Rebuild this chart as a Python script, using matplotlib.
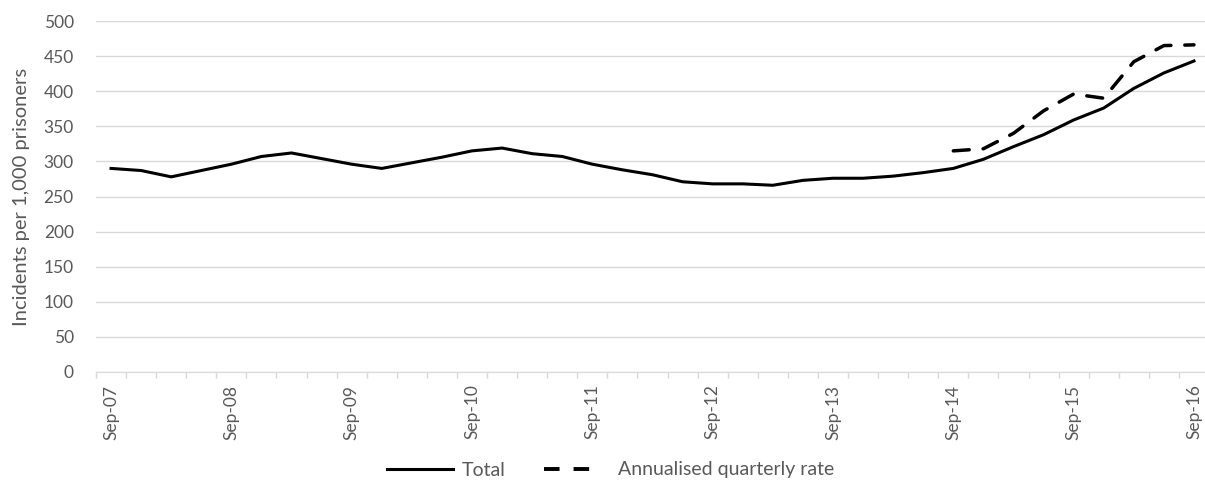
import numpy as np
import matplotlib.pyplot as plt
from matplotlib.ticker import FixedLocator
from matplotlib.lines import Line2D

# DATA
quarters = ['Sep-07', 'Dec-07', 'Mar-08', 'Jun-08', 'Sep-08', 'Dec-08', 'Mar-09', 'Jun-09',
            'Sep-09', 'Dec-09', 'Mar-10', 'Jun-10', 'Sep-10', 'Dec-10', 'Mar-11', 'Jun-11',
            'Sep-11', 'Dec-11', 'Mar-12', 'Jun-12', 'Sep-12', 'Dec-12', 'Mar-13', 'Jun-13',
            'Sep-13', 'Dec-13', 'Mar-14', 'Jun-14', 'Sep-14', 'Dec-14', 'Mar-15', 'Jun-15',
            'Sep-15', 'Dec-15', 'Mar-16', 'Jun-16', 'Sep-16']
total = [290, 287, 278, 287, 296, 307, 312, 304, 296, 290, 298, 306, 315, 319, 311, 307,
         296, 288, 281, 271, 268, 268, 266, 273, 276, 276, 279, 284, 290, 303, 321, 338,
         359, 376, 404, 426, 443]
annual_rate = [None] * 28 + [315, 318, 340, 372, 396, 390, 442, 465, 466]
shown_labels = ['Sep-07', 'Sep-08', 'Sep-09', 'Sep-10', 'Sep-11', 'Sep-12',
                'Sep-13', 'Sep-14', 'Sep-15', 'Sep-16']
yticks = [0, 50, 100, 150, 200, 250, 300, 350, 400, 450, 500]

# SETUP
plt.rcParams['font.family'] = ['Lato', 'DejaVu Sans']
txt_color = '#595959'
grid_color = '#d9d9d9'

fig = plt.figure(figsize=(12.05, 4.82), dpi=100)
ax = fig.add_axes([96/1205, 1 - 372/482, (1209 - 96)/1205, (372 - 21)/482])

x = np.arange(len(quarters))
rate = np.array([np.nan if v is None else v for v in annual_rate], dtype=float)

ax.plot(x, total, color='black', lw=2.2, solid_joinstyle='round')
ax.plot(x, rate, color='black', lw=2.5, dashes=(4.6, 4.0), dash_capstyle='round')

ax.set_xlim(-0.5, len(quarters) - 0.5)
ax.set_ylim(0, 500)
ax.set_yticks(yticks)
ax.yaxis.grid(True, color=grid_color, lw=1)
ax.set_axisbelow(True)

tick_pos = [quarters.index(s) for s in shown_labels]
ax.set_xticks(tick_pos)
ax.set_xticklabels(shown_labels, rotation=90)
ax.xaxis.set_minor_locator(FixedLocator(np.arange(-0.5, len(quarters), 1)))
ax.tick_params(axis='x', which='major', length=0, pad=9, labelsize=12.5, labelcolor=txt_color)
ax.tick_params(axis='x', which='minor', length=4, color=grid_color, width=1)
ax.tick_params(axis='y', length=0, pad=16, labelsize=12.5, labelcolor=txt_color)

for s in ['top', 'right', 'left']:
    ax.spines[s].set_visible(False)
ax.spines['bottom'].set_color(grid_color)

ax.set_ylabel('Incidents per 1,000 prisoners', fontsize=14.5, color=txt_color, labelpad=10)

# legend proxies (two dashes in the dashed handle, as in the original)
h_total = Line2D([], [], color='black', lw=2.2)
h_rate = Line2D([], [], color='black', lw=2.8, dashes=(4.0, 3.6, 4.0, 20))
fig.legend([h_total, h_rate], ['Total', 'Annualised quarterly rate'], loc='center', ncol=2,
           bbox_to_anchor=(611/1205, 12/482), frameon=False, fontsize=14,
           handlelength=3.35, handletextpad=0.46, columnspacing=2.0, labelcolor=txt_color)

fig.savefig('out.png', dpi=100)
